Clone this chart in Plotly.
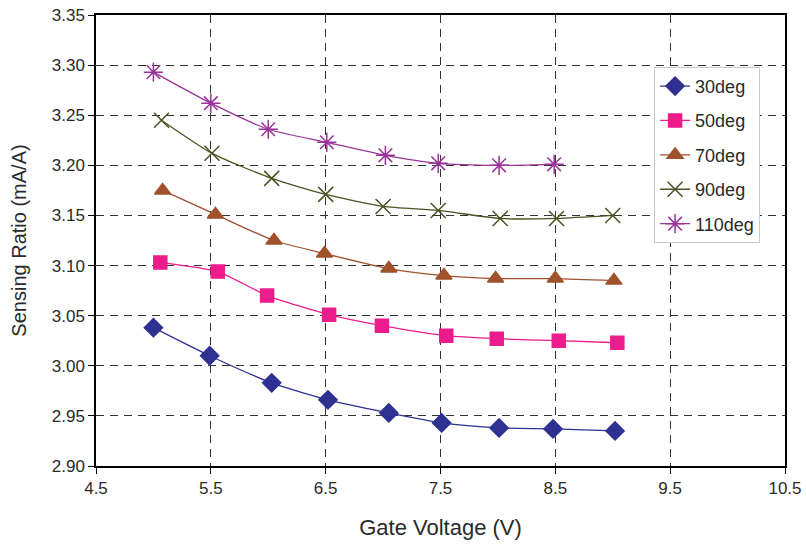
import plotly.graph_objects as go

names = ["30deg", "50deg", "70deg", "90deg", "110deg"]

x30 = [5.00, 5.49, 6.03, 6.52, 7.05, 7.51, 8.01, 8.48, 9.02]
y30 = [3.038, 3.010, 2.983, 2.966, 2.953, 2.943, 2.938, 2.937, 2.935]

x50 = [5.06, 5.56, 5.99, 6.53, 6.99, 7.55, 7.99, 8.53, 9.04]
y50 = [3.103, 3.094, 3.070, 3.051, 3.040, 3.030, 3.027, 3.025, 3.023]

x70 = [5.08, 5.54, 6.05, 6.49, 7.05, 7.53, 7.98, 8.50, 9.01]
y70 = [3.175, 3.151, 3.125, 3.112, 3.097, 3.090, 3.087, 3.087, 3.085]

x90 = [5.07, 5.51, 6.03, 6.50, 7.00, 7.48, 8.02, 8.51, 9.00]
y90 = [3.245, 3.212, 3.187, 3.171, 3.159, 3.155, 3.147, 3.147, 3.150]

x110 = [5.00, 5.50, 6.00, 6.51, 7.02, 7.48, 8.01, 8.49]
y110 = [3.293, 3.262, 3.236, 3.223, 3.210, 3.202, 3.200, 3.201]

xs = [x30, x50, x70, x90, x110]
ys = [y30, y50, y70, y90, y110]
colors = ["#2E3192", "#EC1C8C", "#A0522D", "#4B5320", "#993399"]
symbols = ["diamond", "square", "triangle-up", "x-thin-open", "asterisk-open"]
sizes = [14, 13, 14, 15, 16]

fig = go.Figure()
for i in range(5):
    fig.add_trace(go.Scatter(
        x=xs[i], y=ys[i], name=names[i], mode="lines+markers",
        legendgroup=names[i],
        line=dict(color=colors[i], width=1.3, shape="spline", smoothing=0.6),
        marker=dict(symbol=symbols[i], size=sizes[i], color=colors[i],
                    line=dict(color=colors[i], width=1.5)),
    ))

axis_font = dict(family="Liberation Sans, Arial, sans-serif", size=17, color="#2a2a2a")
fig.update_layout(
    width=806, height=547,
    margin=dict(l=96, r=21, t=15, b=81),
    paper_bgcolor="white", plot_bgcolor="white",
    font=dict(family="Liberation Sans, Arial, sans-serif", color="#2a2a2a"),
    showlegend=True,
    legend=dict(x=0.81, y=0.885, xanchor="left", yanchor="top",
                bgcolor="white", bordercolor="#c8c8d0", borderwidth=1,
                font=dict(size=18, color="#2a2a2a"), tracegroupgap=8,
                itemwidth=30, entrywidth=115, entrywidthmode="pixels"),
    xaxis=dict(range=[4.5, 10.5], tick0=4.5, dtick=1, tickformat=".1f",
               showline=True, mirror=True, linecolor="black", linewidth=1.5,
               ticks="outside", ticklen=6, tickcolor="black",
               showgrid=True, gridcolor="#333", griddash="8px,6px", gridwidth=1,
               zeroline=False, tickfont=axis_font, automargin=False,
               title=dict(text="Gate Voltage (V)", font=dict(size=22, color="#2a2a2a"), standoff=22)),
    yaxis=dict(range=[2.90, 3.35], tick0=2.90, dtick=0.05, tickformat=".2f",
               showline=True, mirror=True, linecolor="black", linewidth=1.5,
               ticks="outside", ticklen=6, tickcolor="black",
               showgrid=True, gridcolor="#333", griddash="8px,6px", gridwidth=1,
               zeroline=False, tickfont=axis_font, automargin=False,
               title=dict(text="Sensing Ratio (mA/A)", font=dict(size=20, color="#2a2a2a"), standoff=20)),
)

fig.write_html("out.html")
